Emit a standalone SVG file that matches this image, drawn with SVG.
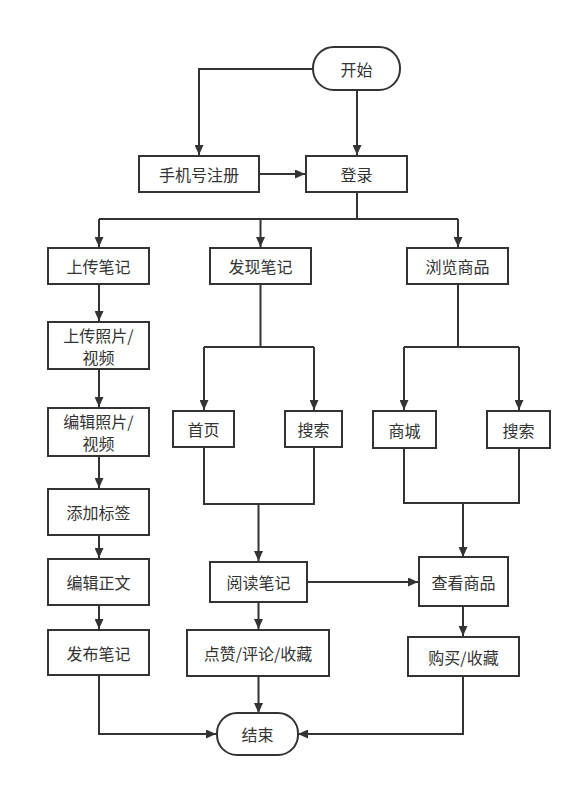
<svg xmlns="http://www.w3.org/2000/svg" width="581" height="787" viewBox="0 0 581 787">
<defs>
<style>
.n rect{fill:#fff;stroke:#333;stroke-width:2}
.n text{font-family:"Noto Sans CJK SC","Noto Sans",sans-serif;font-size:16px;fill:#333;text-anchor:middle;dominant-baseline:central}
#edges path{fill:none;stroke:#333;stroke-width:2}
</style>
<marker id="ah" markerUnits="userSpaceOnUse" markerWidth="10" markerHeight="9" refX="10" refY="4.5" orient="auto"><path d="M0,0 L10,4.5 L0,9 z" fill="#333"/></marker>
</defs>
<rect width="581" height="787" fill="#fff"/>
<g id="edges">
<path d="M313,69 H199 V155" marker-end="url(#ah)"/>
<path d="M357,90 V155" marker-end="url(#ah)"/>
<path d="M259,174 H305" marker-end="url(#ah)"/>
<path d="M357,192 V219 M99,219 H458"/>
<path d="M99,219 V247" marker-end="url(#ah)"/>
<path d="M260.5,219 V247" marker-end="url(#ah)"/>
<path d="M458,219 V247" marker-end="url(#ah)"/>
<path d="M99,284 V321" marker-end="url(#ah)"/>
<path d="M99,369 V407" marker-end="url(#ah)"/>
<path d="M99,456 V488" marker-end="url(#ah)"/>
<path d="M99,535 V558" marker-end="url(#ah)"/>
<path d="M99,605 V629" marker-end="url(#ah)"/>
<path d="M260.5,284 V347 M204,347 H314"/>
<path d="M204,347 V410" marker-end="url(#ah)"/>
<path d="M314,347 V410" marker-end="url(#ah)"/>
<path d="M458,284 V347 M404,347 H519"/>
<path d="M404,347 V410" marker-end="url(#ah)"/>
<path d="M519,347 V410" marker-end="url(#ah)"/>
<path d="M204,447 V504 H314 V447"/>
<path d="M258.5,504 V561" marker-end="url(#ah)"/>
<path d="M404,448 V503 H519 V448"/>
<path d="M463,503 V557" marker-end="url(#ah)"/>
<path d="M307,582 H418" marker-end="url(#ah)"/>
<path d="M258.5,602 V629" marker-end="url(#ah)"/>
<path d="M463,606 V636" marker-end="url(#ah)"/>
<path d="M258.5,676 V713" marker-end="url(#ah)"/>
<path d="M99,675 V734 H216" marker-end="url(#ah)"/>
<path d="M463,676 V734 H298" marker-end="url(#ah)"/>
</g>
<g id="start" class="n"><rect x="313" y="47" width="87" height="43" rx="21"/><text x="356.5" y="68.5">开始</text></g>
<g id="register" class="n"><rect x="139" y="156" width="120" height="36"/><text x="199" y="174">手机号注册</text></g>
<g id="login" class="n"><rect x="306" y="156" width="101" height="36"/><text x="356.5" y="174">登录</text></g>
<g id="upload" class="n"><rect x="48" y="248" width="101" height="36"/><text x="98.5" y="266">上传笔记</text></g>
<g id="discover" class="n"><rect x="210" y="248" width="101" height="36"/><text x="260.5" y="266">发现笔记</text></g>
<g id="browse" class="n"><rect x="407" y="248" width="101" height="36"/><text x="457.5" y="266">浏览商品</text></g>
<g id="uploadphoto" class="n"><rect x="48" y="322" width="101" height="47"/><text x="98.5" y="334.5">上传照片/</text><text x="98.5" y="356.5">视频</text></g>
<g id="editphoto" class="n"><rect x="48" y="408" width="101" height="48"/><text x="98.5" y="421">编辑照片/</text><text x="98.5" y="443">视频</text></g>
<g id="addtag" class="n"><rect x="48" y="489" width="101" height="46"/><text x="98.5" y="512">添加标签</text></g>
<g id="edittext" class="n"><rect x="48" y="559" width="101" height="46"/><text x="98.5" y="582">编辑正文</text></g>
<g id="publish" class="n"><rect x="48" y="630" width="101" height="45"/><text x="98.5" y="652.5">发布笔记</text></g>
<g id="home" class="n"><rect x="173" y="411" width="61" height="36"/><text x="203.5" y="429">首页</text></g>
<g id="search1" class="n"><rect x="285" y="411" width="57" height="36"/><text x="313.5" y="429">搜索</text></g>
<g id="mall" class="n"><rect x="373" y="411" width="63" height="37"/><text x="404.5" y="429.5">商城</text></g>
<g id="search2" class="n"><rect x="487" y="411" width="63" height="37"/><text x="518.5" y="429.5">搜索</text></g>
<g id="read" class="n"><rect x="210" y="562" width="97" height="40"/><text x="258.5" y="582">阅读笔记</text></g>
<g id="view" class="n"><rect x="419" y="557" width="89" height="49"/><text x="463.5" y="581.5">查看商品</text></g>
<g id="like" class="n"><rect x="187" y="630" width="142" height="46"/><text x="258" y="653">点赞/评论/收藏</text></g>
<g id="buy" class="n"><rect x="408" y="637" width="111" height="39"/><text x="463.5" y="656.5">购买/收藏</text></g>
<g id="end" class="n"><rect x="217" y="713" width="81" height="42" rx="20"/><text x="257.5" y="734">结束</text></g>
</svg>
